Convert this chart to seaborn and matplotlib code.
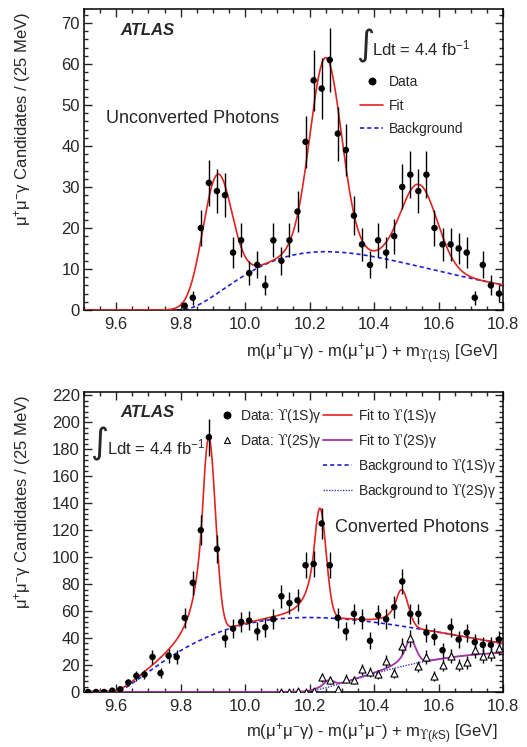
import numpy as np
import matplotlib
matplotlib.use("Agg")
import matplotlib.pyplot as plt
import seaborn as sns
from matplotlib.lines import Line2D
from matplotlib.ticker import MultipleLocator, FormatStrFormatter

# --- data ---
bin_width = 0.025
unconv_first_bin = 9.8125
unconv_counts = [1, 3, 20, 31, 29, 28, 14, 17, 9, 11, 6, 17, 12, 17, 24, 41, 56, 54, 61, 43,
                 39, 23, 16, 11, 17, 14, 18, 30, 33, 29, 33, 20, 16, 16, 15, 14, 3, 11, 6, 4]

conv1_first_bin = 9.5125
conv1_counts = [0, 0, 0, 1, 2, 7, 12, 13, 26, 14, 27, 26, 55, 81, 120, 189, 106, 40, 47, 52,
                53, 45, 48, 54, 71, 66, 68, 94, 95, 125, 94, 55, 45, 58, 54, 38, 57, 54, 63, 82,
                58, 58, 44, 41, 31, 48, 39, 44, 37, 35, 35, 39]

conv2_first_bin = 10.1125
conv2_counts = [0, 0, 1, 0, 1, 11, 9, 2, 10, 9, 17, 15, 13, 23, 14, 34, 40, 19, 26, 12,
                20, 27, 20, 22, 31, 27, 28, 33]

# fit parameters
unconv_bg = dict(thr=9.80, norm=509.0, a=1.99, b=4.42)
unconv_peak_mass = [9.913, 10.250, 10.539]
unconv_peak_amp = [29.0, 47.3, 20.0]
unconv_peak_sigma = [0.045, 0.049, 0.057]

conv1_bg = dict(thr=9.60, norm=441.0, a=1.369, b=2.296)
conv1_peak_mass = [9.887, 10.232, 10.486]
conv1_peak_amp = [147.0, 81.0, 27.0]
conv1_peak_sigma = [0.021, 0.019, 0.020]

conv2_bg = dict(thr=10.18, norm=234.0, a=1.565, b=2.152)
conv2_peak_mass = [10.258, 10.512]
conv2_peak_amp = [5.0, 18.0]
conv2_peak_sigma = [0.016, 0.018]

cb_alpha, cb_n = 0.9, 3.0

RED = "#e2231f"
BLUE = "#1f1fd8"
PURPLE = "#a133a6"
DOTBLUE = "#3b3bc4"

sns.set_style("ticks")
plt.rcParams["font.family"] = ["Liberation Sans", "DejaVu Sans"]
plt.rcParams["mathtext.fontset"] = "custom"
plt.rcParams["mathtext.rm"] = "Liberation Sans"
plt.rcParams["mathtext.it"] = "Liberation Sans:italic"
plt.rcParams["mathtext.bf"] = "Liberation Sans:bold"
plt.rcParams["mathtext.sf"] = "DejaVu Serif"
plt.rcParams["axes.linewidth"] = 1.1

UPS = r"$\mathsf{ϒ}$"


def threshold_bg(x, p):
    t = np.clip(x - p["thr"], 0, None)
    return p["norm"] * t ** p["a"] * np.exp(-p["b"] * t)


def gauss(x, m, s):
    return np.exp(-0.5 * ((x - m) / s) ** 2)


def crystal_ball(x, m, s):
    z = (x - m) / s
    A = (cb_n / cb_alpha) ** cb_n * np.exp(-0.5 * cb_alpha ** 2)
    B = cb_n / cb_alpha - cb_alpha
    out = np.exp(-0.5 * z ** 2)
    tail = z < -cb_alpha
    out[tail] = A * (B - z[tail]) ** (-cb_n)
    return out


def centers(first, n):
    return first + bin_width * np.arange(n)


def style_axes(ax, ymax, ymaj, ymin):
    ax.set_xlim(9.5, 10.8)
    ax.set_ylim(0, ymax)
    ax.xaxis.set_major_locator(MultipleLocator(0.2))
    ax.xaxis.set_minor_locator(MultipleLocator(0.05))
    ax.xaxis.set_major_formatter(FormatStrFormatter("%.1f"))
    ax.yaxis.set_major_locator(MultipleLocator(ymaj))
    ax.yaxis.set_minor_locator(MultipleLocator(ymin))
    ax.tick_params(which="both", direction="in", top=True, right=True,
                   labelsize=12, width=1.0)
    ax.tick_params(which="major", length=6)
    ax.tick_params(which="minor", length=3)
    ax.tick_params(axis="x", pad=5)
    ax.tick_params(axis="y", pad=3)
    for sp in ax.spines.values():
        sp.set_visible(True)
        sp.set_color("black")


fig = plt.figure(figsize=(5.27, 7.47), dpi=100)
ax1 = fig.add_axes([0.1594, 0.585, 0.795, 0.403])
ax2 = fig.add_axes([0.1594, 0.0736, 0.795, 0.4016])

xs = np.linspace(9.5, 10.8, 1500)

# ---------------- top panel: unconverted photons ----------------
bg_u = threshold_bg(xs, unconv_bg)
fit_u = bg_u.copy()
for m, a, s in zip(unconv_peak_mass, unconv_peak_amp, unconv_peak_sigma):
    fit_u += a * gauss(xs, m, s)

sns.lineplot(x=xs, y=bg_u, ax=ax1, color=BLUE, linewidth=1.2,
             linestyle=(0, (2.5, 1.8)), zorder=2)
sns.lineplot(x=xs, y=fit_u, ax=ax1, color=RED, linewidth=1.2, zorder=3)

xu = centers(unconv_first_bin, len(unconv_counts))
yu = np.array(unconv_counts, dtype=float)
ax1.errorbar(xu, yu, yerr=np.sqrt(yu), fmt="none", ecolor="black",
             elinewidth=1.0, capsize=0, zorder=4)
sns.scatterplot(x=xu, y=yu, ax=ax1, color="black", s=22, edgecolor="none", zorder=5)

style_axes(ax1, 73.4, 10, 2)
ax1.set_xlabel(r"m(μ$^{+}$μ$^{-}$γ) - m(μ$^{+}$μ$^{-}$) + m$_{\mathsf{ϒ}\mathrm{(1S)}}$ [GeV]",
               fontsize=12, loc="right")
ax1.xaxis.set_label_coords(0.988, -0.105)
ax1.set_ylabel(r"μ$^{+}$μ$^{-}$γ Candidates / (25 MeV)", fontsize=12, loc="top")
ax1.yaxis.set_label_coords(-0.122, 0.99)

ax1.text(0.086, 0.914, "ATLAS", transform=ax1.transAxes, fontsize=12,
         fontweight="bold", fontstyle="italic")
ax1.text(0.0525, 0.621, "Unconverted Photons", transform=ax1.transAxes, fontsize=13)
ax1.text(0.671, 0.877, "∫", transform=ax1.transAxes, fontsize=25, family="DejaVu Sans",
         ha="center", va="center")
ax1.text(0.687, 0.847, r"Ldt = 4.4 fb$^{\mathregular{-1}}$", transform=ax1.transAxes,
         fontsize=12)

h_top = [Line2D([], [], marker="o", color="black", linestyle="none", markersize=4.7),
         Line2D([], [], color=RED, linewidth=1.2),
         Line2D([], [], color=BLUE, linewidth=1.2, linestyle=(0, (2.5, 1.8)))]
ax1.legend(h_top, ["Data", "Fit", "Background"], loc="upper left",
           bbox_to_anchor=(0.659, 0.781), frameon=False, fontsize=10,
           handlelength=1.65, handletextpad=0.45, labelspacing=0.7,
           borderpad=0, borderaxespad=0)

# ---------------- bottom panel: converted photons ----------------
bg_c1 = threshold_bg(xs, conv1_bg)
fit_c1 = bg_c1.copy()
for m, a, s in zip(conv1_peak_mass, conv1_peak_amp, conv1_peak_sigma):
    fit_c1 += a * crystal_ball(xs, m, s)

bg_c2 = threshold_bg(xs, conv2_bg)
fit_c2 = bg_c2.copy()
for m, a, s in zip(conv2_peak_mass, conv2_peak_amp, conv2_peak_sigma):
    fit_c2 += a * crystal_ball(xs, m, s)

sns.lineplot(x=xs, y=bg_c1, ax=ax2, color=BLUE, linewidth=1.2,
             linestyle=(0, (2.5, 1.8)), zorder=2)
sns.lineplot(x=xs, y=bg_c2, ax=ax2, color=DOTBLUE, linewidth=1.0,
             linestyle=(0, (1, 1)), zorder=2)
sns.lineplot(x=xs, y=fit_c1, ax=ax2, color=RED, linewidth=1.2, zorder=3)
sns.lineplot(x=xs, y=fit_c2, ax=ax2, color=PURPLE, linewidth=1.3, zorder=3)

x1 = centers(conv1_first_bin, len(conv1_counts))
y1 = np.array(conv1_counts, dtype=float)
ax2.errorbar(x1, y1, yerr=np.sqrt(y1), fmt="none", ecolor="black",
             elinewidth=1.0, capsize=0, zorder=4)
sns.scatterplot(x=x1, y=y1, ax=ax2, color="black", s=22, edgecolor="none", zorder=5)

x2 = centers(conv2_first_bin, len(conv2_counts))
y2 = np.array(conv2_counts, dtype=float)
ax2.errorbar(x2, y2, yerr=np.sqrt(y2), fmt="none", ecolor="black",
             elinewidth=1.0, capsize=0, zorder=4)
sns.scatterplot(x=x2, y=y2, ax=ax2, marker="^", s=26, facecolor="white",
                edgecolor="black", linewidth=0.8, zorder=5)

style_axes(ax2, 222.5, 20, 4)
ax2.set_xlabel(r"m(μ$^{+}$μ$^{-}$γ) - m(μ$^{+}$μ$^{-}$) + m$_{\mathsf{ϒ}\mathrm{(}k\mathrm{S)}}$ [GeV]",
               fontsize=12, loc="right")
ax2.xaxis.set_label_coords(0.988, -0.099)
ax2.set_ylabel(r"μ$^{+}$μ$^{-}$γ Candidates / (25 MeV)", fontsize=12, loc="top")
ax2.yaxis.set_label_coords(-0.122, 0.99)

ax2.text(0.086, 0.918, "ATLAS", transform=ax2.transAxes, fontsize=12,
         fontweight="bold", fontstyle="italic")
ax2.text(0.599, 0.532, "Converted Photons", transform=ax2.transAxes, fontsize=13)
ax2.text(0.036, 0.827, "∫", transform=ax2.transAxes, fontsize=25, family="DejaVu Sans",
         ha="center", va="center")
ax2.text(0.0549, 0.793, r"Ldt = 4.4 fb$^{\mathregular{-1}}$", transform=ax2.transAxes,
         fontsize=12)

h_data = [Line2D([], [], marker="o", color="black", linestyle="none", markersize=4.7),
          Line2D([], [], marker="^", markerfacecolor="white", markeredgecolor="black",
                 linestyle="none", markersize=5, markeredgewidth=0.8)]
leg_a = ax2.legend(h_data, ["Data: " + UPS + "(1S)γ", "Data: " + UPS + "(2S)γ"],
                   loc="upper left",
                   bbox_to_anchor=(0.3246, 0.950), frameon=False, fontsize=10,
                   handlelength=1.0, handletextpad=0.45, labelspacing=0.5,
                   borderpad=0, borderaxespad=0)
ax2.add_artist(leg_a)
h_fit = [Line2D([], [], color=RED, linewidth=1.2),
         Line2D([], [], color=PURPLE, linewidth=1.3),
         Line2D([], [], color=BLUE, linewidth=1.2, linestyle=(0, (2.5, 1.8))),
         Line2D([], [], color=DOTBLUE, linewidth=1.0, linestyle=(0, (1, 1)))]
ax2.legend(h_fit, ["Fit to " + UPS + "(1S)γ", "Fit to " + UPS + "(2S)γ",
                   "Background to " + UPS + "(1S)γ", "Background to " + UPS + "(2S)γ"],
           loc="upper left",
           bbox_to_anchor=(0.570, 0.950), frameon=False, fontsize=10,
           handlelength=2.1, handletextpad=0.45, labelspacing=0.5,
           borderpad=0, borderaxespad=0)

fig.savefig("out.png", dpi=100)
